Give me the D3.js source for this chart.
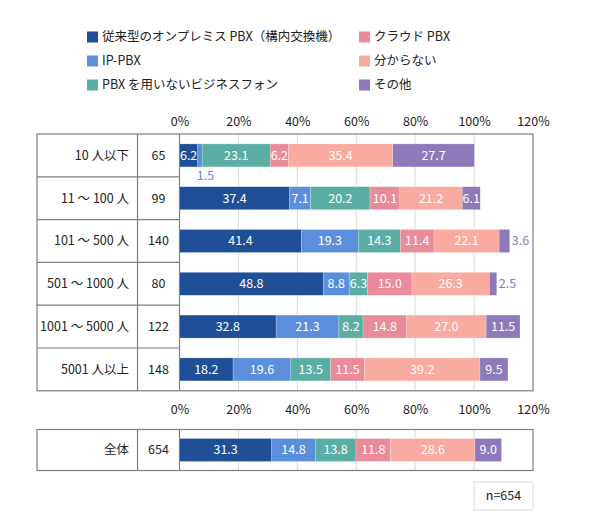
<!DOCTYPE html>
<html>
<head>
<meta charset="utf-8">
<script src="https://d3js.org/d3.v7.min.js"></script>
<style>
  body { margin: 0; background: #fff; }
  text { font-family: "Noto Sans CJK JP", "Noto Sans", sans-serif; }
</style>
</head>
<body>
<div id="graph"></div>
<script>
// categories and sample sizes
var categories = ["10 人以下", "11 ～ 100 人", "101 ～ 500 人", "501 ～ 1000 人", "1001 ～ 5000 人", "5001 人以上"];
var counts = [65, 99, 140, 80, 122, 148];

// series values (%), one array per answer
var legacyPBX = [6.2, 37.4, 41.4, 48.8, 32.8, 18.2];
var ipPBX     = [1.5, 7.1, 19.3, 8.8, 21.3, 19.6];
var noPBX     = [23.1, 20.2, 14.3, 6.3, 8.2, 13.5];
var cloudPBX  = [6.2, 10.1, 11.4, 15.0, 14.8, 11.5];
var unknown   = [35.4, 21.2, 22.1, 26.3, 27.0, 39.2];
var other     = [27.7, 6.1, 3.6, 2.5, 11.5, 9.5];

// overall row
var totalLabel = "全体";
var totalCount = 654;
var totalValues = [31.3, 14.8, 13.8, 11.8, 28.6, 9.0];

var seriesNames = ["従来型のオンプレミス PBX（構内交換機）", "IP-PBX", "PBX を用いないビジネスフォン",
                   "クラウド PBX", "分からない", "その他"];
var colors = ["#1f4f97", "#5b8fdb", "#5baea4", "#e98b99", "#f9aba0", "#8e79bb"];
var tickValues = [0, 20, 40, 60, 80, 100, 120];

var series = [legacyPBX, ipPBX, noPBX, cloudPBX, unknown, other];

var svg = d3.select("#graph").append("svg")
  .attr("width", 590).attr("height", 526);

// layout
var tableLeft = 37, colDiv = 137.5, plotLeft = 179.5, plotRight = 533;
var x = d3.scaleLinear().domain([0, 120]).range([plotLeft, plotRight]);
var lineColor = "#7f7f7f", gridColor = "#d9d9d9";

// legend
var legendItems = seriesNames.map(function(n, i) { return {name: n, color: colors[i], i: i}; });
var leg = svg.append("g").selectAll("g").data(legendItems).enter().append("g")
  .attr("transform", function(d) {
    var col = d.i < 3 ? 0 : 1, row = d.i % 3;
    return "translate(" + (col === 0 ? 87 : 359) + "," + (37 + row * 24) + ")";
  });
leg.append("rect").attr("x", 0).attr("y", -5.5).attr("width", 11).attr("height", 11)
  .attr("fill", function(d) { return d.color; });
leg.append("text").attr("x", 15).attr("dy", "0.35em").attr("font-size", "12.5px")
  .attr("fill", "#222").text(function(d) { return d.name; });

function drawBlock(top, rowH, labels, ns, rows, axisY) {
  var y = d3.scaleBand().domain(d3.range(labels.length))
    .range([top, top + rowH * labels.length]).paddingInner(0).paddingOuter(0);
  var bottom = top + rowH * labels.length;

  // axis labels
  var ax = svg.append("g").attr("transform", "translate(0," + axisY + ")")
    .call(d3.axisTop(x).tickValues(tickValues).tickFormat(function(d) { return d + "%"; }).tickSize(0));
  ax.select(".domain").remove();
  ax.selectAll("text").attr("font-size", "12.5px").attr("fill", "#222")
    .attr("dy", "0.35em").attr("y", 0)
    .style("font-family", "'Noto Sans CJK JP', sans-serif");

  // grid
  svg.append("g").selectAll("line").data(tickValues.slice(1, -1)).enter().append("line")
    .attr("x1", function(d) { return x(d); }).attr("x2", function(d) { return x(d); })
    .attr("y1", top).attr("y2", bottom).attr("stroke", gridColor).attr("stroke-width", 1);

  // table lines
  var t = svg.append("g").attr("stroke", lineColor).attr("stroke-width", 1.2).attr("fill", "none");
  t.append("rect").attr("x", tableLeft).attr("y", top).attr("width", plotRight - tableLeft).attr("height", bottom - top);
  t.append("line").attr("x1", colDiv).attr("x2", colDiv).attr("y1", top).attr("y2", bottom);
  t.append("line").attr("x1", plotLeft).attr("x2", plotLeft).attr("y1", top).attr("y2", bottom);
  d3.range(1, labels.length).forEach(function(i) {
    t.append("line").attr("x1", tableLeft).attr("x2", plotLeft)
      .attr("y1", y(i)).attr("y2", y(i));
  });

  // row labels and counts
  svg.append("g").selectAll("text").data(labels).enter().append("text")
    .attr("x", 129).attr("y", function(d, i) { return y(i) + rowH / 2; })
    .attr("dy", "0.35em").attr("text-anchor", "end").attr("font-size", "12.5px").attr("fill", "#222")
    .text(function(d) { return d; });
  svg.append("g").selectAll("text").data(ns).enter().append("text")
    .attr("x", (colDiv + plotLeft) / 2).attr("y", function(d, i) { return y(i) + rowH / 2; })
    .attr("dy", "0.35em").attr("text-anchor", "middle").attr("font-size", "12.5px").attr("fill", "#222")
    .text(function(d) { return d; });

  // stacked bars
  var barH = 23;
  rows.forEach(function(vals, r) {
    var cy = y(r) + rowH / 2;
    var acc = 0;
    var segs = vals.map(function(v, k) {
      var s = {v: v, k: k, x0: acc, x1: acc + v, last: k === vals.length - 1};
      acc += v; return s;
    });
    var g = svg.append("g");
    g.selectAll("rect").data(segs).enter().append("rect")
      .attr("x", function(d) { return x(d.x0); })
      .attr("width", function(d) { return x(d.x1) - x(d.x0); })
      .attr("y", cy - barH / 2).attr("height", barH)
      .attr("fill", function(d) { return colors[d.k]; })
      .attr("stroke", "#fff").attr("stroke-opacity", 0.35).attr("stroke-width", 0.6);
    // narrow segments get their label outside: right of the bar if last, else below
    g.selectAll("text").data(segs).enter().append("text")
      .attr("font-size", "12.5px")
      .attr("x", function(d) {
        var w = x(d.x1) - x(d.x0);
        if (w < 14) return d.last ? x(d.x1) + 2 : x(d.x0) - 1;
        return (x(d.x0) + x(d.x1)) / 2;
      })
      .attr("y", function(d) {
        var w = x(d.x1) - x(d.x0);
        if (w < 14 && !d.last) return cy + barH / 2 + 9;
        return cy;
      })
      .attr("dy", "0.35em")
      .attr("text-anchor", function(d) {
        var w = x(d.x1) - x(d.x0);
        return w < 14 ? "start" : "middle";
      })
      .attr("fill", function(d) {
        var w = x(d.x1) - x(d.x0);
        return w < 14 ? colors[d.k] : "#fff";
      })
      .text(function(d) { return d.v.toFixed(1); });
  });
}

// per-category rows built from the series arrays
var catRows = categories.map(function(c, i) { return series.map(function(s) { return s[i]; }); });

drawBlock(134, 42.8, categories, counts, catRows, 122);
drawBlock(429.5, 41, [totalLabel], [totalCount], [totalValues], 410);

// n box
svg.append("rect").attr("x", 474).attr("y", 482).attr("width", 59).attr("height", 28)
  .attr("fill", "#fff").attr("stroke", gridColor);
svg.append("text").attr("x", 503.5).attr("y", 496).attr("dy", "0.35em")
  .attr("text-anchor", "middle").attr("font-size", "12.5px").attr("fill", "#222").text("n=" + totalCount);
</script>
</body>
</html>
